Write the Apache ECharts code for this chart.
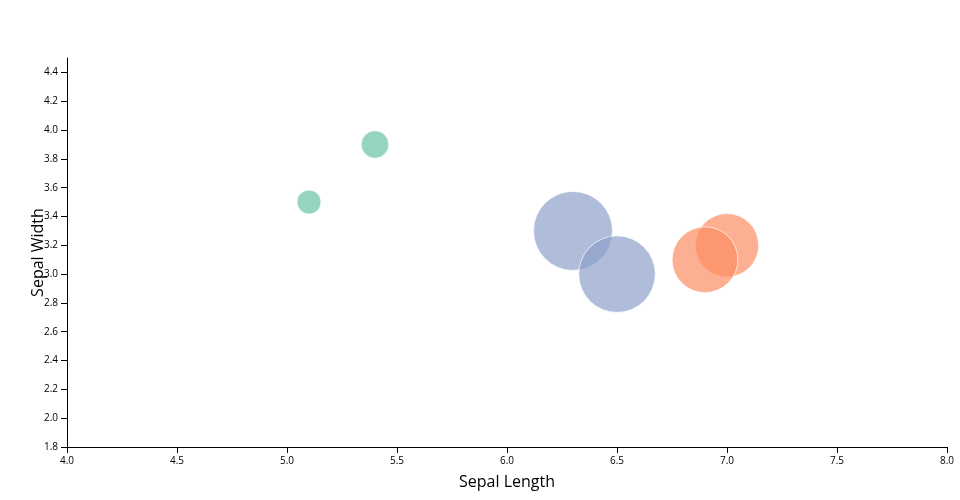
<!DOCTYPE html>
<html>
<head>
<meta charset="utf-8">
<script src="https://cdn.jsdelivr.net/npm/echarts@6/dist/echarts.min.js"></script>
<style>html,body{margin:0;padding:0;background:#fff}#chart{width:960px;height:500px}</style>
</head>
<body>
<div id="chart"></div>
<script>
const species = ["setosa", "versicolor", "virginica"];
const colors = ["#66c2a5", "#fc8d62", "#8da0cb"];
const setosaSepalLength = [5.1, 5.4];
const setosaSepalWidth = [3.5, 3.9];
const setosaPetalLength = [1.4, 1.7];
const versicolorSepalLength = [7.0, 6.9];
const versicolorSepalWidth = [3.2, 3.1];
const versicolorPetalLength = [4.7, 4.9];
const virginicaSepalLength = [6.3, 6.5];
const virginicaSepalWidth = [3.3, 3.0];
const virginicaPetalLength = [6.0, 5.8];

const groups = [
  [setosaSepalLength, setosaSepalWidth, setosaPetalLength],
  [versicolorSepalLength, versicolorSepalWidth, versicolorPetalLength],
  [virginicaSepalLength, virginicaSepalWidth, virginicaPetalLength]
];
const allPL = [].concat(setosaPetalLength, versicolorPetalLength, virginicaPetalLength);
const plMin = Math.min(...allPL), plMax = Math.max(...allPL);
function sizeOf(pl) { return 24 + (pl - plMin) / (plMax - plMin) * 55; }

const font = "'Open Sans', sans-serif";
const chart = echarts.init(document.getElementById('chart'));
chart.setOption({
  animation: false,
  grid: { left: 67, right: 13, top: 58, bottom: 53 },
  xAxis: {
    type: 'value', min: 4.0, max: 8.0, interval: 0.5,
    name: 'Sepal Length', nameLocation: 'middle', nameGap: 27, nameMoveOverlap: false,
    nameTextStyle: { fontFamily: font, fontSize: 16, color: '#000' },
    splitLine: { show: false },
    axisLine: { show: true, onZero: false, lineStyle: { color: '#000', width: 1 } },
    axisTick: { show: true, length: 6, lineStyle: { color: '#000' } },
    axisLabel: { fontFamily: font, fontSize: 10, color: '#000', margin: 9,
      formatter: v => v.toFixed(1) }
  },
  yAxis: {
    type: 'value', min: 1.8, max: 4.5, interval: 0.2,
    name: 'Sepal Width', nameLocation: 'middle', nameGap: 21, nameRotate: 90, nameMoveOverlap: false,
    nameTextStyle: { fontFamily: font, fontSize: 16, color: '#000' },
    splitLine: { show: false },
    axisLine: { show: true, onZero: false, lineStyle: { color: '#000', width: 1 } },
    axisTick: { show: true, length: 6, lineStyle: { color: '#000' } },
    axisLabel: { fontFamily: font, fontSize: 10, color: '#000', margin: 9, showMaxLabel: false,
      formatter: v => v.toFixed(1) }
  },
  series: groups.map((g, i) => ({
    name: species[i],
    type: 'scatter',
    data: g[0].map((x, j) => [x, g[1][j], g[2][j]]),
    symbolSize: d => sizeOf(d[2]),
    itemStyle: { color: colors[i], opacity: 0.7, borderColor: '#fff', borderWidth: 1 }
  }))
});
</script>
</body>
</html>
